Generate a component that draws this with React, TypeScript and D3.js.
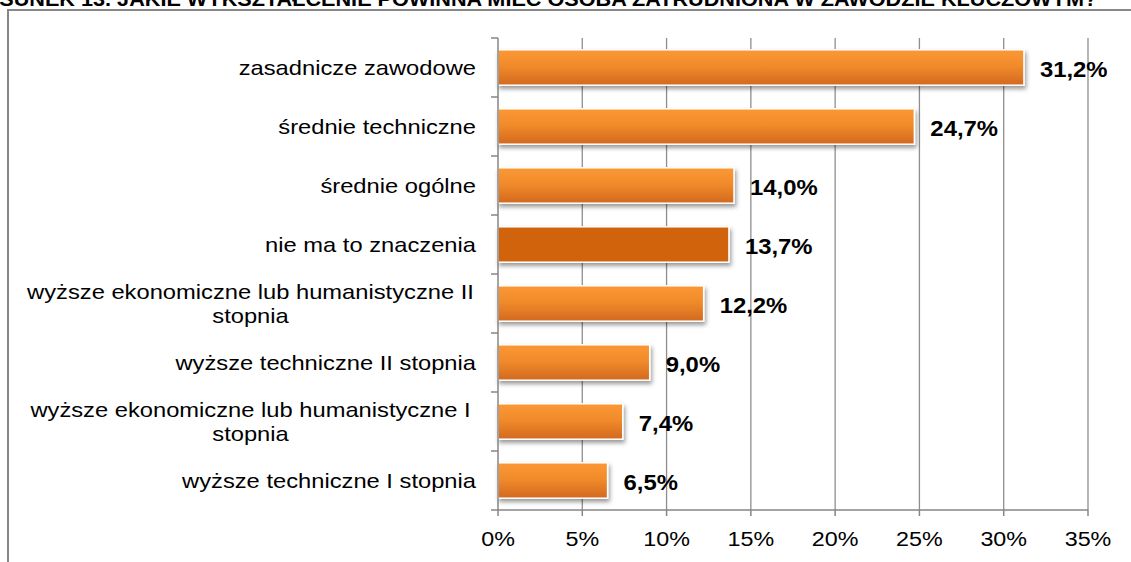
import React from "react";
import * as d3 from "d3";

const title = "RYSUNEK 13. JAKIE WYKSZTAŁCENIE POWINNA MIEĆ OSOBA ZATRUDNIONA W ZAWODZIE KLUCZOWYM?";
const categories = [
  "zasadnicze zawodowe",
  "średnie techniczne",
  "średnie ogólne",
  "nie ma to znaczenia",
  "wyższe ekonomiczne lub humanistyczne II stopnia",
  "wyższe techniczne II stopnia",
  "wyższe ekonomiczne lub humanistyczne I stopnia",
  "wyższe techniczne I stopnia",
];
const values = [31.2, 24.7, 14.0, 13.7, 12.2, 9.0, 7.4, 6.5];
const highlighted = ["nie ma to znaczenia"];
const xTicks = [0, 5, 10, 15, 20, 25, 30, 35];

const W = 1131;
const H = 562;
const SX = 1.11;
const SXL = 1.13;
const FONT = "'Liberation Sans', Arial, sans-serif";

function wrap(label: string): string[] {
  if (label.length <= 40) return [label];
  const i = label.lastIndexOf(" ");
  return [label.slice(0, i), label.slice(i + 1)];
}

export default function App() {
  const x = d3.scaleLinear().domain([0, 35]).range([498, 1088]);
  const y = d3
    .scaleBand<string>()
    .domain(categories)
    .range([38, 510])
    .paddingInner(0.4)
    .paddingOuter(0.2);
  const step = y.step();
  const [top, bottom] = y.range();
  const boundaries = d3.range(categories.length + 1).map((i) => top + i * step);
  const fmt = (v: number) => v.toFixed(1).replace(".", ",") + "%";

  return (
    <svg
      width={W}
      height={H}
      style={{ position: "absolute", left: 0, top: 0, background: "#fff" }}
      fontFamily={FONT}
    >
      <defs>
        <linearGradient id="barGrad" x1="0" y1="0" x2="0" y2="1">
          <stop offset="0" stopColor="#FB9834" />
          <stop offset="0.45" stopColor="#F18B2B" />
          <stop offset="1" stopColor="#D2691F" />
        </linearGradient>
        <filter id="shadow" x="-5%" y="-20%" width="115%" height="160%">
          <feDropShadow dx="1.5" dy="3" stdDeviation="2" floodColor="#000" floodOpacity="0.4" />
        </filter>
      </defs>

      {/* title (cut off at top, as in the source) */}
      <text
        transform={`translate(-30,6) scale(${SX},1)`}
        fontSize={19.5}
        fontWeight="bold"
        fill="#000"
      >
        {title}
      </text>

      {/* chart frame */}
      <rect x={8} y={10} width={W + 20} height={H + 20} fill="none" stroke="#878787" strokeWidth={2} />

      {/* gridlines */}
      {xTicks.slice(1).map((t) => (
        <line key={"g" + t} x1={x(t)} x2={x(t)} y1={top} y2={bottom} stroke="#8e8e8e" strokeWidth={1.3} />
      ))}

      {/* bars */}
      {categories.map((c, i) => (
        <rect
          key={c}
          x={x(0)}
          y={y(c)!}
          width={x(values[i]) - x(0)}
          height={y.bandwidth()}
          fill={highlighted.includes(c) ? "#D1630B" : "url(#barGrad)"}
          stroke="#fff"
          strokeWidth={1.5}
          filter="url(#shadow)"
        />
      ))}

      {/* axes */}
      <line x1={x(0)} x2={x(0)} y1={top} y2={bottom} stroke="#868686" strokeWidth={1.5} />
      {boundaries.map((b, i) => (
        <line key={"yt" + i} x1={x(0) - 7} x2={x(0)} y1={b} y2={b} stroke="#868686" strokeWidth={1.5} />
      ))}
      <line x1={x(0)} x2={x(35)} y1={bottom} y2={bottom} stroke="#868686" strokeWidth={1.5} />
      {xTicks.map((t) => (
        <g key={"xt" + t}>
          <line x1={x(t)} x2={x(t)} y1={bottom} y2={bottom + 6} stroke="#868686" strokeWidth={1.5} />
          <text
            transform={`translate(${x(t)},546) scale(${SX},1)`}
            textAnchor="middle"
            fontSize={21}
            fill="#000"
          >
            {t + "%"}
          </text>
        </g>
      ))}

      {/* category labels */}
      {categories.map((c) => {
        const lines = wrap(c);
        const cy = y(c)! + y.bandwidth() / 2;
        if (lines.length === 1) {
          return (
            <text
              key={"l" + c}
              transform={`translate(476,${cy + 7.5}) scale(${SXL},1)`}
              textAnchor="end"
              fontSize={21}
              fill="#000"
            >
              {c}
            </text>
          );
        }
        return (
          <text
            key={"l" + c}
            transform={`translate(250.5,${cy + 7.5}) scale(${SXL},1)`}
            textAnchor="middle"
            fontSize={21}
            fill="#000"
          >
            {lines.map((ln, k) => (
              <tspan key={k} x={0} y={(k - (lines.length - 1) / 2) * 24}>
                {ln}
              </tspan>
            ))}
          </text>
        );
      })}

      {/* value labels */}
      {categories.map((c, i) => (
        <text
          key={"v" + c}
          transform={`translate(${x(values[i]) + 16},${y(c)! + y.bandwidth() / 2 + 9}) scale(${SX},1)`}
          fontSize={21.5}
          fontWeight="bold"
          fill="#000"
        >
          {fmt(values[i])}
        </text>
      ))}
    </svg>
  );
}
